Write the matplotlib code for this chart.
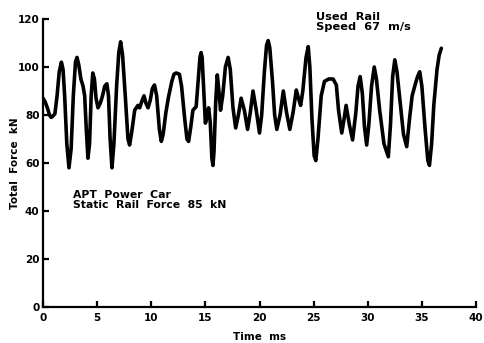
import matplotlib
matplotlib.use("Agg")
import matplotlib.pyplot as plt

time_ms = [0.0, 0.2, 0.4, 0.6, 0.75, 0.9, 1.1, 1.3, 1.5, 1.7, 1.85, 2.0, 2.2, 2.4, 2.6, 2.8, 3.0, 3.14,
           3.3, 3.5, 3.7, 3.85, 4.0, 4.15, 4.3, 4.45, 4.6, 4.75, 4.9, 5.08, 5.3, 5.5, 5.7, 5.9, 6.05,
           6.2, 6.37, 6.55, 6.8, 7.0, 7.17, 7.35, 7.6, 7.85, 8.0, 8.2, 8.47, 8.77, 8.93, 9.15, 9.33,
           9.5, 9.7, 9.9, 10.1, 10.3, 10.5, 10.75, 10.93, 11.1, 11.35, 11.6, 11.9, 12.1, 12.3, 12.6,
           12.8, 13.1, 13.3, 13.45, 13.65, 13.85, 14.15, 14.35, 14.5, 14.6, 14.7, 14.85, 15.0, 15.15,
           15.3, 15.45, 15.6, 15.7, 15.8, 15.95, 16.1, 16.25, 16.4, 16.6, 16.85, 17.1, 17.3, 17.55,
           17.8, 18.05, 18.3, 18.6, 18.9, 19.15, 19.4, 19.7, 20.0, 20.2, 20.45, 20.65, 20.8, 20.95,
           21.2, 21.4, 21.6, 21.9, 22.2, 22.5, 22.8, 23.1, 23.4, 23.6, 23.8, 24.0, 24.3, 24.5, 24.65,
           24.85, 25.05, 25.2, 25.4, 25.7, 26.0, 26.4, 26.8, 27.1, 27.3, 27.6, 27.8, 28.0, 28.3, 28.6,
           28.9, 29.1, 29.3, 29.5, 29.7, 29.9, 30.1, 30.35, 30.6, 30.8, 31.1, 31.5, 31.9, 32.1, 32.3,
           32.5, 32.7, 33.0, 33.3, 33.6, 33.85, 34.1, 34.4, 34.6, 34.8, 35.0, 35.3, 35.55, 35.7, 35.9,
           36.1, 36.4, 36.6, 36.8]

force_kn = [87, 85.5, 83, 80, 79, 79.5, 80.5, 88, 98, 102, 99, 88, 68, 58, 66, 88, 102, 104,
            101, 95, 92, 88, 74, 62, 68, 88, 97.5, 95, 87, 83, 85, 88, 92, 93, 88,
            70, 58, 68, 92, 106, 110.5, 105, 88, 70, 67.5, 73, 82, 84, 83, 86, 88,
            85, 83, 86, 91, 92.5, 88, 74, 69, 72, 81, 87.6, 94, 97, 97.5, 97,
            92, 78, 70, 69, 75, 82, 83.5, 95, 104, 106, 104, 90, 76.6, 79,
            83, 77, 62, 59, 65, 85, 96.7, 90, 82, 88, 100, 104, 99, 83,
            74.6, 80, 87, 82, 74, 81, 90, 82, 72.5, 80, 98, 109, 111, 108,
            94, 80, 74, 80, 90, 81, 74, 81, 90.4, 87, 84, 90, 104, 108.5, 100,
            78, 63, 61, 70, 88, 94, 95, 95, 92.5, 82, 72.5, 78, 84, 76, 69.6,
            81, 92, 96, 89, 75, 67.5, 76, 92, 100, 95, 82, 68, 62.6, 76, 96,
            103, 98, 85, 72, 66.8, 78, 88, 93, 96, 98, 92, 74, 61, 59, 68,
            84, 99, 105, 107.8]

x_ticks = [0, 5, 10, 15, 20, 25, 30, 35, 40]
y_ticks = [0, 20, 40, 60, 80, 100, 120]

fig = plt.figure(figsize=(4.85, 3.43), dpi=100)
ax = fig.add_axes([43 / 485, 36 / 343, 433 / 485, 288 / 343])

ax.plot(time_ms, force_kn, color="black", lw=2.6, solid_joinstyle="round", solid_capstyle="round")

ax.set_xlim(0, 40)
ax.set_ylim(0, 120)
ax.set_xticks(x_ticks)
ax.set_yticks(y_ticks)
ax.spines["top"].set_visible(False)
ax.spines["right"].set_visible(False)
for s in ("left", "bottom"):
    ax.spines[s].set_linewidth(1.6)
ax.tick_params(direction="in", length=4.5, width=1.6, labelsize=7.5, pad=2.5)
ax.tick_params(axis="x", pad=4)
for lab in ax.get_xticklabels() + ax.get_yticklabels():
    lab.set_fontweight("bold")

ax.set_xlabel("Time  ms", fontsize=7.5, fontweight="bold")
ax.set_ylabel("Total  Force  kN", fontsize=7.5, fontweight="bold")
ax.xaxis.set_label_coords(0.5, -0.088)
ax.yaxis.set_label_coords(-0.052, 0.5)

ax.text(73 / 485, 1 - 199.5 / 343, "APT  Power  Car\nStatic  Rail  Force  85  kN",
        transform=fig.transFigure, fontsize=7.8, fontweight="bold", va="center", ha="left",
        linespacing=1.0)
ax.text(316 / 485, 1 - 21.5 / 343, "Used  Rail\nSpeed  67  m/s",
        transform=fig.transFigure, fontsize=8.2, fontweight="bold", va="center", ha="left",
        linespacing=1.0)

fig.savefig("out.png", dpi=100)
